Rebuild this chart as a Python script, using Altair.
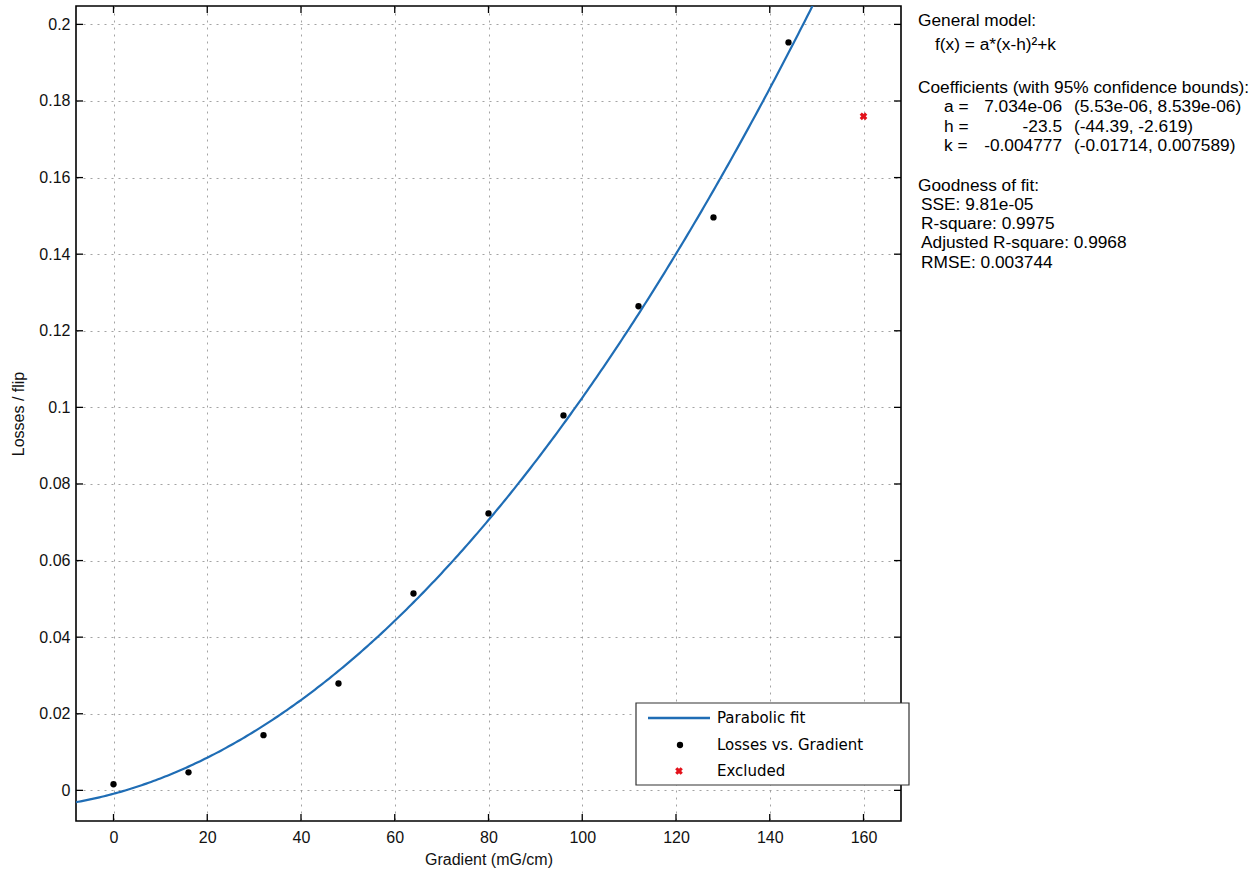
import altair as alt
import pandas as pd

# Measured losses per flip against field gradient
gradient = [0, 16, 32, 48, 64, 80, 96, 112, 128, 144]
losses = [0.0016, 0.0047, 0.0144, 0.0279, 0.0514, 0.0723, 0.0979, 0.1264, 0.1496, 0.1953]

# Point left out of the fit
excluded_gradient = [160]
excluded_losses = [0.176]

# Parabolic fit f(x) = a*(x-h)^2 + k
fit_a = 7.034e-06
fit_h = -23.5
fit_k = -0.004777

x_ticks = [0, 20, 40, 60, 80, 100, 120, 140, 160]
y_ticks = [0, 0.02, 0.04, 0.06, 0.08, 0.1, 0.12, 0.14, 0.16, 0.18, 0.2]
x_domain = [-8, 168]
y_domain = [-0.008, 0.2048]

legend_labels = ["Parabolic fit", "Losses vs. Gradient", "Excluded"]

panel_lines = [
    "General model:",
    "f(x) = a*(x-h)\u00b2+k",
    "Coefficients (with 95% confidence bounds):",
    "Goodness of fit:",
    "SSE: 9.81e-05",
    "R-square: 0.9975",
    "Adjusted R-square: 0.9968",
    "RMSE: 0.003744",
]
coef_names = ["a =", "h =", "k ="]
coef_values = ["7.034e-06", "-23.5", "-0.004777"]
coef_bounds = ["(5.53e-06, 8.539e-06)", "(-44.39, -2.619)", "(-0.01714, 0.007589)"]

W, H = 825, 815
FONT = "Liberation Sans"
LEGEND_FONT = "DejaVu Sans"
FIT_BLUE = "#1f6db5"
PANEL_SIZE = 17.3

xs = alt.Scale(domain=x_domain, nice=False, zero=False)
ys = alt.Scale(domain=y_domain, nice=False, zero=False)

points_df = pd.DataFrame({"g": gradient, "l": losses})
excl_df = pd.DataFrame({"g": excluded_gradient, "l": excluded_losses})
xt_df = pd.DataFrame({"v": x_ticks})
yt_df = pd.DataFrame({"v": y_ticks})
one = alt.Data(values=[{"k": 0}])

x_axis = alt.Axis(values=x_ticks, title="Gradient (mG/cm)", grid=True, labelPadding=8,
                  titlePadding=6)
y_axis = alt.Axis(values=y_ticks, title="Losses / flip", grid=True, format="~g",
                  labelPadding=6, titlePadding=12)

points = alt.Chart(points_df).mark_circle(size=40, color="black", opacity=1).encode(
    x=alt.X("g:Q", scale=xs, axis=x_axis),
    y=alt.Y("l:Q", scale=ys, axis=y_axis),
)

fit = (
    alt.Chart(alt.sequence(start=-8, stop=168.01, step=0.5, as_="g"))
    .transform_calculate(l=f"{fit_a} * pow(datum.g - ({fit_h}), 2) + ({fit_k})")
    .mark_line(color=FIT_BLUE, strokeWidth=2.2, clip=True)
    .encode(x=alt.X("g:Q", scale=xs, axis=x_axis), y=alt.Y("l:Q", scale=ys, axis=y_axis))
)

excluded = alt.Chart(excl_df).mark_point(
    shape="cross", angle=45, filled=True, size=60, color="#e3121b", opacity=1
).encode(x=alt.X("g:Q", scale=xs, axis=x_axis), y=alt.Y("l:Q", scale=ys, axis=y_axis))

# Inward-pointing tick marks on all four sides
TL = 7
tick_color = "black"
xt_bottom = alt.Chart(xt_df).mark_rule(color=tick_color, strokeWidth=1.3).encode(
    x=alt.X("v:Q", scale=xs, axis=x_axis), y=alt.value(H), y2=alt.value(H - TL))
xt_top = alt.Chart(xt_df).mark_rule(color=tick_color, strokeWidth=1.3).encode(
    x=alt.X("v:Q", scale=xs, axis=x_axis), y=alt.value(0), y2=alt.value(TL))
yt_left = alt.Chart(yt_df).mark_rule(color=tick_color, strokeWidth=1.3).encode(
    y=alt.Y("v:Q", scale=ys, axis=y_axis), x=alt.value(0), x2=alt.value(TL))
yt_right = alt.Chart(yt_df).mark_rule(color=tick_color, strokeWidth=1.3).encode(
    y=alt.Y("v:Q", scale=ys, axis=y_axis), x=alt.value(W), x2=alt.value(W - TL))


def label(text, x, y, align="left", size=PANEL_SIZE, font=FONT):
    return alt.Chart(one).mark_text(
        text=text, align=align, baseline="middle", fontSize=size, font=font, color="black"
    ).encode(x=alt.value(x), y=alt.value(y))


# Fit summary to the right of the axes
PX = 842
panel = [
    label(panel_lines[0], PX, 15),
    label(panel_lines[1], PX + 17, 39),
    label(panel_lines[2], PX, 82),
    label(panel_lines[3], PX, 180),
    label(panel_lines[4], PX + 3, 199),
    label(panel_lines[5], PX + 3, 218),
    label(panel_lines[6], PX + 3, 237),
    label(panel_lines[7], PX + 3, 257),
]
for i, yy in enumerate([101, 121, 140]):
    panel.append(label(coef_names[i], PX + 26, yy))
    panel.append(label(coef_values[i], PX + 144, yy, align="right"))
    panel.append(label(coef_bounds[i], PX + 156, yy))

# Legend box
lx0, lx1, ly0, ly1 = 560, 833, 697, 779
legend_box = alt.Chart(one).mark_rect(fill="white", stroke="#333333", strokeWidth=1.2).encode(
    x=alt.value(lx0), x2=alt.value(lx1), y=alt.value(ly0), y2=alt.value(ly1))
legend_line = alt.Chart(one).mark_rule(color=FIT_BLUE, strokeWidth=2.4).encode(
    x=alt.value(lx0 + 12), x2=alt.value(lx0 + 74), y=alt.value(ly0 + 15))
legend_dot = alt.Chart(one).mark_circle(size=40, color="black", opacity=1).encode(
    x=alt.value(lx0 + 44), y=alt.value(ly0 + 42))
legend_cross = alt.Chart(one).mark_point(
    shape="cross", angle=45, filled=True, size=60, color="#e3121b", opacity=1
).encode(x=alt.value(lx0 + 43), y=alt.value(ly0 + 68))
legend_text = [
    label(legend_labels[0], lx0 + 81, ly0 + 15, size=15, font=LEGEND_FONT),
    label(legend_labels[1], lx0 + 81, ly0 + 42, size=15, font=LEGEND_FONT),
    label(legend_labels[2], lx0 + 81, ly0 + 68, size=15, font=LEGEND_FONT),
]

chart = alt.layer(
    points, fit, excluded, xt_bottom, xt_top, yt_left, yt_right,
    *panel, legend_box, legend_line, legend_dot, legend_cross, *legend_text,
).properties(
    width=W, height=H,
    autosize=alt.AutoSizeParams(type="none"),
    padding={"left": 76, "top": 6, "right": 351, "bottom": 48},
    background="white",
).configure_view(
    stroke="black", strokeWidth=1.6
).configure_axis(
    labelFont=FONT, labelFontSize=16, labelColor="#111111",
    titleFont=FONT, titleFontSize=16, titleFontWeight="normal", titleColor="#111111",
    domain=False, ticks=False,
    gridColor="#8c8c8c", gridDash=[2, 5], gridWidth=1, gridOpacity=0.8,
)

chart.save("out.html", embed_options={"renderer": "svg", "actions": False})
